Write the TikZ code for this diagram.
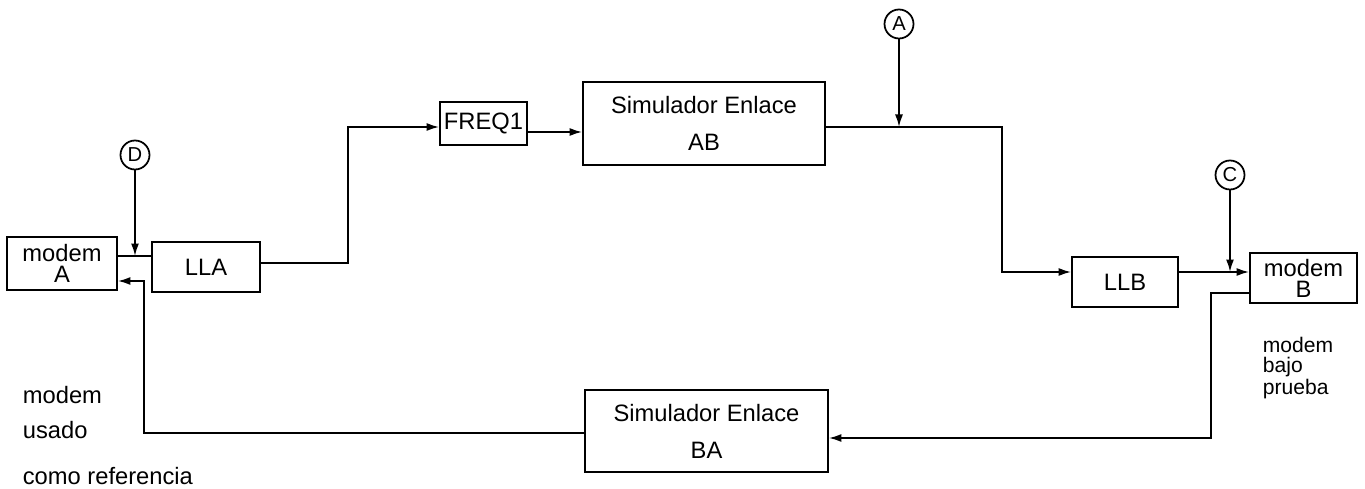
\documentclass[tikz,border=0pt]{standalone}
\usepackage{fontspec}
\setmainfont{Liberation Sans}
\usetikzlibrary{arrows.meta,calc,positioning}

\begin{document}
\begin{tikzpicture}[
  x=0.02cm, y=-0.02cm,
  font=\fontsize{13.5}{16}\selectfont,
  >={Latex[length=2.5mm,width=1.6mm]},
  line width=1pt,
  block/.style={draw, inner sep=0pt, align=center},
  tap/.style={draw, circle, inner sep=0pt, minimum size=0.58cm, font=\fontsize{11.5}{13}\selectfont},
  note/.style={anchor=west, inner sep=0pt},
  smallnote/.style={note, font=\fontsize{12}{14}\selectfont}
]
\path[use as bounding box] (0,0) rectangle (1365,489);

% blocks
\node[block, minimum width=2.2cm, minimum height=1.06cm] (modemA) at (62,263.5) {modem\\[-4pt]A};
\node[block, minimum width=2.16cm, minimum height=1.0cm] (LLA) at (206,267) {LLA};
\node[block, minimum width=1.74cm, minimum height=0.86cm] (FREQ1) at (483.5,123.5) {FREQ1};
\node[block, minimum width=4.84cm, minimum height=1.66cm] (simAB) at (704,123.5) {Simulador Enlace\\[5pt]AB};
\node[block, minimum width=2.12cm, minimum height=1.0cm] (LLB) at (1125,282) {LLB};
\node[block, minimum width=2.14cm, minimum height=1.0cm] (modemB) at (1303.5,278) {modem\\[-4pt]B};
\node[block, minimum width=4.86cm, minimum height=1.64cm] (simBA) at (706.5,431) {Simulador Enlace\\[5pt]BA};

% test points
\node[tap] (tapA) at (899,24) {A};
\node[tap] (tapC) at (1230,175) {C};
\node[tap] (tapD) at (135,155) {D};

% links
\draw ($(modemA.east)+(0,-7.5)$) coordinate (jD) -- (jD -| LLA.west);
\draw[->] (LLA.east) ++(0,-4) -- ++(87,0) |- ($(FREQ1.west)+(0,3.5)$);
\draw[->] ($(FREQ1.east)+(0,8.5)$) coordinate (jF) -- (jF -| simAB.west);
\draw[->] (simAB.east) ++(0,3.5) -| ($(LLB.west)+(-69,-10)$) -- ($(LLB.west)+(0,-10)$);
\draw[->] ($(LLB.east)+(0,-10)$) coordinate (jC) -- (jC -| modemB.west);
\draw[->] ($(modemB.west)+(0,15)$) -- ++(-38,0) |- ($(simBA.east)+(0,7)$);
\draw[->] ($(simBA.west)+(0,2)$) -| ($(modemA.east)+(26,17.5)$) -- ($(modemA.east)+(0,17.5)$);

% injections
\draw[->] (tapD) -- (tapD |- jD);
\draw[->] (tapA) -- (tapA |- 0,127);
\draw[->] (tapC) -- (tapC |- jC);

% notes
\node[note] (refA) at (22,395) {modem};
\node[note] (refB) at (22,430) {usado};
\node[note] (refC) at (22,476) {como referencia};
\node[smallnote] (testA) at (1262,345) {modem};
\node[smallnote] (testB) at (1262,367) {bajo};
\node[smallnote] (testC) at (1262,389) {prueba};
\end{tikzpicture}
\end{document}
